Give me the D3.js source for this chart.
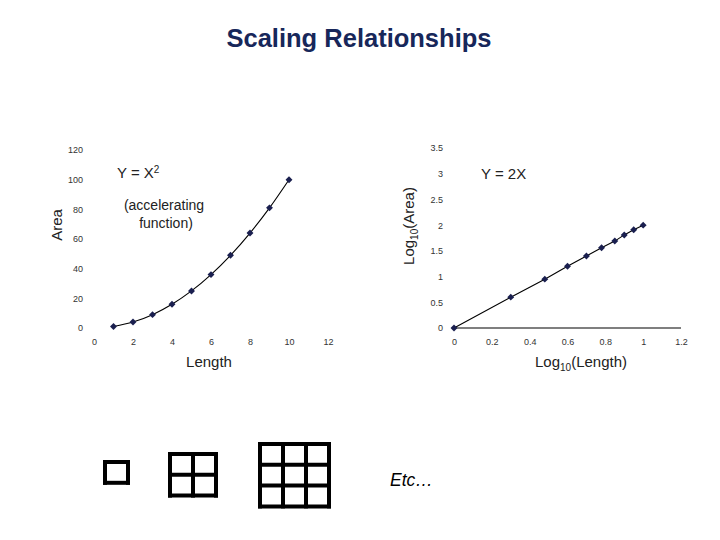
<!DOCTYPE html>
<html>
<head>
<meta charset="utf-8">
<title>Scaling Relationships</title>
<script src="https://cdn.jsdelivr.net/npm/d3@7"></script>
<style>
body { margin:0; background:#fff; }
text { font-family: Arial, "Liberation Sans", sans-serif; }
.tick text { font-size:9px; fill:#333; }
</style>
</head>
<body>
<script>
// left panel: area vs length
var lengths = [1, 2, 3, 4, 5, 6, 7, 8, 9, 10];
var areas = [1, 4, 9, 16, 25, 36, 49, 64, 81, 100];
var leftXTicks = [0, 2, 4, 6, 8, 10, 12];
var leftYTicks = [0, 20, 40, 60, 80, 100, 120];

// right panel: log10 values
var logLength = [0, 0.30, 0.48, 0.60, 0.70, 0.78, 0.85, 0.90, 0.95, 1.00];
var logArea = [0, 0.60, 0.95, 1.20, 1.40, 1.56, 1.69, 1.81, 1.91, 2.00];
var rightXTicks = [0, 0.2, 0.4, 0.6, 0.8, 1, 1.2];
var rightYTicks = [0, 0.5, 1, 1.5, 2, 2.5, 3, 3.5];

// grid squares at the bottom
var gridSizes = [1, 2, 3];

var navy = "#1a1f4f";

var svg = d3.select("body").append("svg").attr("width",720).attr("height",540);

svg.append("text").text("Scaling Relationships")
  .attr("x",359).attr("y",47).attr("text-anchor","middle")
  .attr("font-size",25.5).attr("font-weight","bold").attr("fill","#17275a");

function panel(xs, ys, xTicks, yTicks, xr, yr, xd, yd, curved, axisLine) {
  var x = d3.scaleLinear().domain(xd).range(xr);
  var y = d3.scaleLinear().domain(yd).range(yr);
  var g = svg.append("g");

  var xa = g.append("g").attr("transform","translate(0,"+(yr[0]+8)+")")
    .call(d3.axisBottom(x).tickValues(xTicks).tickSize(0).tickFormat(function(d){ return d; }));
  xa.select(".domain").remove();
  var ya = g.append("g").attr("transform","translate("+(xr[0]-8)+",0)")
    .call(d3.axisLeft(y).tickValues(yTicks).tickSize(0).tickFormat(function(d){ return d; }));
  ya.select(".domain").remove();

  if (axisLine) {
    g.append("line").attr("x1",x(xd[0])-2).attr("x2",x(xd[1])).attr("y1",y(0)).attr("y2",y(0))
      .attr("stroke","#000").attr("stroke-width",1.2);
  }

  var pts = xs.map(function(d,i){ return [d, ys[i]]; });
  var line = d3.line().x(function(d){ return x(d[0]); }).y(function(d){ return y(d[1]); });
  if (curved) line.curve(d3.curveMonotoneX);
  g.append("path").datum(pts).attr("d",line).attr("fill","none")
    .attr("stroke","#000").attr("stroke-width",1.1);

  g.selectAll(".pt").data(pts).enter().append("path")
    .attr("d", d3.symbol().type(d3.symbolSquare).size(24))
    .attr("transform", function(d){ return "translate("+x(d[0])+","+y(d[1])+") rotate(45)"; })
    .attr("fill",navy);
  return g;
}

panel(lengths, areas, leftXTicks, leftYTicks, [94,328], [328,150], [0,12], [0,120], true, false);
panel(logLength, logArea, rightXTicks, rightYTicks, [454,681], [328,148], [0,1.2], [0,3.5], false, true);

// annotations
svg.append("text").text("Y = X").attr("x",117).attr("y",178).attr("font-size",15).attr("fill","#222")
  .append("tspan").text("2").attr("font-size",10).attr("dy",-5);
svg.append("text").text("(accelerating").attr("x",164).attr("y",210).attr("text-anchor","middle")
  .attr("font-size",14).attr("fill","#222");
svg.append("text").text("function)").attr("x",166).attr("y",228).attr("text-anchor","middle")
  .attr("font-size",14).attr("fill","#222");
svg.append("text").text("Y = 2X").attr("x",481).attr("y",179).attr("font-size",15).attr("fill","#222");

svg.append("text").text("Area").attr("transform","translate(62,225) rotate(-90)")
  .attr("text-anchor","middle").attr("font-size",15).attr("fill","#222");
var ly = svg.append("text").attr("transform","translate(414,226) rotate(-90)")
  .attr("text-anchor","middle").attr("font-size",15).attr("fill","#222");
ly.append("tspan").text("Log");
ly.append("tspan").text("10").attr("font-size",10).attr("dy",4);
ly.append("tspan").text("(Area)").attr("dy",-4);

svg.append("text").text("Length").attr("x",209).attr("y",367).attr("text-anchor","middle")
  .attr("font-size",15).attr("fill","#222");
var lx = svg.append("text").attr("x",581).attr("y",367).attr("text-anchor","middle")
  .attr("font-size",15).attr("fill","#222");
lx.append("tspan").text("Log");
lx.append("tspan").text("10").attr("font-size",10).attr("dy",4);
lx.append("tspan").text("(Length)").attr("dy",-4);

// grids of unit squares (slightly wider than tall, as in the slide)
var cellW = 23, cellH = 20.8;
var gridX = [105, 170, 260];
var gridY = [462, 454, 444];
gridSizes.forEach(function(n, k) {
  var w = n * cellW, h = n * cellH;
  var gg = svg.append("g").attr("transform","translate("+gridX[k]+","+gridY[k]+")");
  var steps = d3.range(n + 1);
  gg.selectAll(".v").data(steps).enter().append("line")
    .attr("x1",function(d){ return d*cellW; }).attr("x2",function(d){ return d*cellW; })
    .attr("y1",-2).attr("y2",h+2).attr("stroke","#000").attr("stroke-width",4);
  gg.selectAll(".h").data(steps).enter().append("line")
    .attr("y1",function(d){ return d*cellH; }).attr("y2",function(d){ return d*cellH; })
    .attr("x1",-2).attr("x2",w+2).attr("stroke","#000").attr("stroke-width",4);
});

svg.append("text").text("Etc…").attr("x",390).attr("y",486).attr("font-size",17.5)
  .attr("font-style","italic").attr("fill","#000");
</script>
</body>
</html>
